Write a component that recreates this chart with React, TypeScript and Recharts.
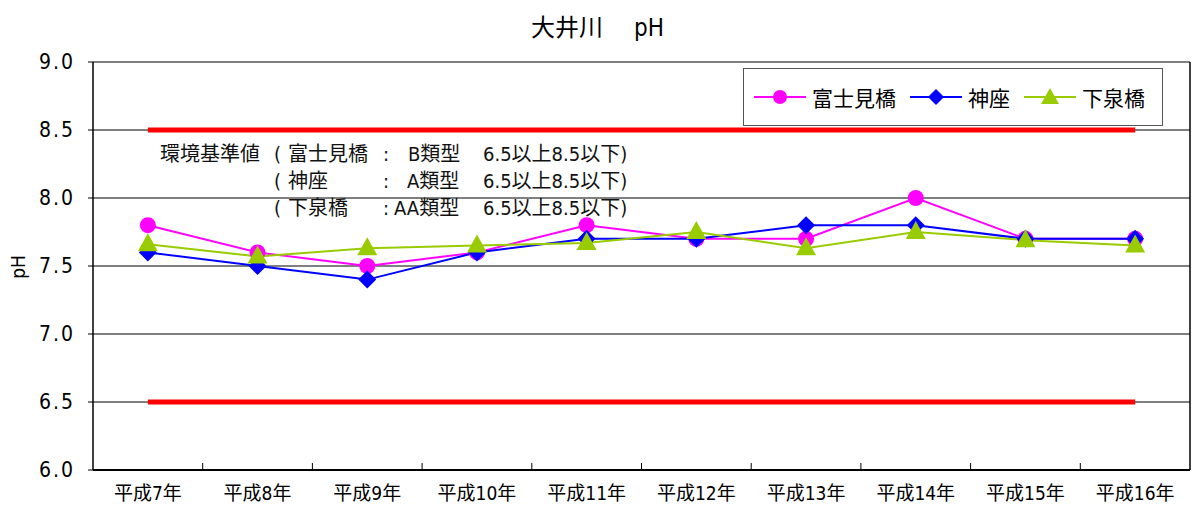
import { LineChart, Line, XAxis, YAxis, CartesianGrid, Legend } from "recharts";

const years = ["平成7年", "平成8年", "平成9年", "平成10年", "平成11年", "平成12年", "平成13年", "平成14年", "平成15年", "平成16年"];
const fujimi = [7.8, 7.6, 7.5, 7.6, 7.8, 7.7, 7.7, 8.0, 7.7, 7.7];
const kamiza = [7.6, 7.5, 7.4, 7.6, 7.7, 7.7, 7.8, 7.8, 7.7, 7.7];
const shimoizumi = [7.66, 7.57, 7.63, 7.65, 7.67, 7.75, 7.63, 7.75, 7.69, 7.65];
const upperLimit = 8.5;
const lowerLimit = 6.5;
const yTicks = [6.0, 6.5, 7.0, 7.5, 8.0, 8.5, 9.0];

const data = years.map((name, i) => ({
  name,
  fujimi: fujimi[i],
  kamiza: kamiza[i],
  shimoizumi: shimoizumi[i],
  upper: upperLimit,
  lower: lowerLimit,
}));

const JP = "'Liberation Sans Narrow', 'DejaVu Sans Condensed', 'Noto Sans CJK JP', sans-serif";

const MAGENTA = "#FF00FF";
const BLUE = "#0000FF";
const GREEN = "#99CC00";
const RED = "#FF0000";
const X_TICK_MARGIN = 17;

const CircleDot = (p: any) =>
  p.cx == null ? null : <circle key={p.key} cx={p.cx} cy={p.cy} r={8} fill={MAGENTA} />;

const DiamondDot = (p: any) =>
  p.cx == null ? null : (
    <polygon
      key={p.key}
      points={`${p.cx},${p.cy - 9} ${p.cx + 9},${p.cy} ${p.cx},${p.cy + 9} ${p.cx - 9},${p.cy}`}
      fill={BLUE}
    />
  );

const TriangleDot = (p: any) =>
  p.cx == null ? null : (
    <polygon
      key={p.key}
      points={`${p.cx},${p.cy - 11} ${p.cx + 10},${p.cy + 7} ${p.cx - 10},${p.cy + 7}`}
      fill={GREEN}
    />
  );

// label under each category plus a short inward tick mark on the boundary to its right
const CategoryTick = (p: any) => {
  const half = p.payload?.offset ?? 0;
  const axisY = p.y - X_TICK_MARGIN;
  const last = p.index === years.length - 1;
  return (
    <g>
      <text x={p.x} y={p.y} dy="0.71em" textAnchor="middle" fill="#000" fontSize={19} fontFamily={JP}>
        {p.payload.value}
      </text>
      {!last && half > 0 && (
        <line x1={p.x + half} x2={p.x + half} y1={axisY} y2={axisY - 7} stroke="#000" strokeWidth={1} />
      )}
    </g>
  );
};

const legendItems = [
  { label: "富士見橋", color: MAGENTA, shape: "circle" },
  { label: "神座", color: BLUE, shape: "diamond" },
  { label: "下泉橋", color: GREEN, shape: "triangle" },
];

function LegendBox() {
  return (
    <div
      style={{
        display: "flex",
        alignItems: "center",
        height: "100%",
        paddingLeft: 10,
        fontFamily: JP,
        fontSize: 21,
        color: "#000",
      }}
    >
      {legendItems.map((it) => (
        <div key={it.label} style={{ display: "flex", alignItems: "center", marginRight: 14 }}>
          <svg width={52} height={20} style={{ marginRight: 6 }}>
            <line x1={0} y1={10} x2={52} y2={10} stroke={it.color} strokeWidth={2} />
            {it.shape === "circle" && <circle cx={26} cy={10} r={7} fill={it.color} />}
            {it.shape === "diamond" && <polygon points="26,2 34,10 26,18 18,10" fill={it.color} />}
            {it.shape === "triangle" && <polygon points="26,1 35,17 17,17" fill={it.color} />}
          </svg>
          <span>{it.label}</span>
        </div>
      ))}
    </div>
  );
}

const noteStyle = { position: "absolute" as const, fontFamily: JP, fontSize: 20, lineHeight: "20px", whiteSpace: "pre" as const, color: "#111" };

export default function App() {
  return (
    <div style={{ position: "absolute", left: 0, top: 0, width: 1195, height: 511, background: "#fff" }}>
      <div
        style={{
          position: "absolute",
          left: 0,
          width: 1195,
          top: 8,
          textAlign: "center",
          fontFamily: JP,
          fontSize: 24,
          whiteSpace: "pre",
        }}
      >
        {"大井川　 pH"}
      </div>
      <div
        style={{
          position: "absolute",
          left: 6,
          top: 256,
          fontFamily: JP,
          fontSize: 19,
          transform: "rotate(-90deg)",
        }}
      >
        pH
      </div>
      <LineChart width={1195} height={511} data={data} margin={{ top: 62, right: 0, bottom: 0, left: 0 }}>
        <CartesianGrid vertical={false} stroke="#000" strokeWidth={1} />
        <XAxis
          dataKey="name"
          scale="band"
          tickSize={0}
          tickMargin={X_TICK_MARGIN}
          height={41}
          axisLine={{ stroke: "#000", strokeWidth: 2 }}
          tickLine={false}
          tick={CategoryTick}
          interval={0}
        />
        <YAxis
          domain={[6, 9]}
          ticks={yTicks}
          width={93}
          tickSize={5}
          tickMargin={13}
          tickFormatter={(v: number) => v.toFixed(1)}
          axisLine={{ stroke: "#000", strokeWidth: 1.5 }}
          tickLine={{ stroke: "#000" }}
          tick={{ fill: "#000", fontSize: 21, fontFamily: JP, letterSpacing: 2 }}
        />
        <YAxis
          yAxisId="right"
          orientation="right"
          domain={[6, 9]}
          width={5}
          tick={false}
          tickLine={false}
          axisLine={{ stroke: "#000", strokeWidth: 1.5 }}
        />
        <Legend
          layout="horizontal"
          verticalAlign="middle"
          align="center"
          content={() => <LegendBox />}
          wrapperStyle={{
            position: "absolute",
            left: 743,
            top: 68,
            width: 420,
            height: 58,
            border: "1px solid #555",
            background: "#fff",
            boxSizing: "border-box",
          }}
        />
        <Line dataKey="upper" stroke={RED} strokeWidth={5} dot={false} activeDot={false} isAnimationActive={false} legendType="none" />
        <Line dataKey="lower" stroke={RED} strokeWidth={5} dot={false} activeDot={false} isAnimationActive={false} legendType="none" />
        <Line dataKey="fujimi" stroke={MAGENTA} strokeWidth={2} dot={CircleDot} activeDot={false} isAnimationActive={false} />
        <Line dataKey="kamiza" stroke={BLUE} strokeWidth={2} dot={DiamondDot} activeDot={false} isAnimationActive={false} />
        <Line dataKey="shimoizumi" stroke={GREEN} strokeWidth={2} dot={TriangleDot} activeDot={false} isAnimationActive={false} />
      </LineChart>
      <div style={{ ...noteStyle, left: 160, top: 144 }}>環境基準値</div>
      <div style={{ ...noteStyle, left: 274, top: 144 }}>(</div>
      <div style={{ ...noteStyle, left: 288, top: 144 }}>富士見橋</div>
      <div style={{ ...noteStyle, left: 383, top: 144 }}>:</div>
      <div style={{ ...noteStyle, left: 408, top: 144 }}>B類型</div>
      <div style={{ ...noteStyle, left: 483, top: 144 }}>6.5以上8.5以下)</div>

      <div style={{ ...noteStyle, left: 274, top: 171 }}>(</div>
      <div style={{ ...noteStyle, left: 288, top: 171 }}>神座</div>
      <div style={{ ...noteStyle, left: 383, top: 171 }}>:</div>
      <div style={{ ...noteStyle, left: 407, top: 171 }}>A類型</div>
      <div style={{ ...noteStyle, left: 483, top: 171 }}>6.5以上8.5以下)</div>

      <div style={{ ...noteStyle, left: 274, top: 198 }}>(</div>
      <div style={{ ...noteStyle, left: 288, top: 198 }}>下泉橋</div>
      <div style={{ ...noteStyle, left: 383, top: 198 }}>:</div>
      <div style={{ ...noteStyle, left: 394, top: 198 }}>AA類型</div>
      <div style={{ ...noteStyle, left: 483, top: 198 }}>6.5以上8.5以下)</div>
    </div>
  );
}
